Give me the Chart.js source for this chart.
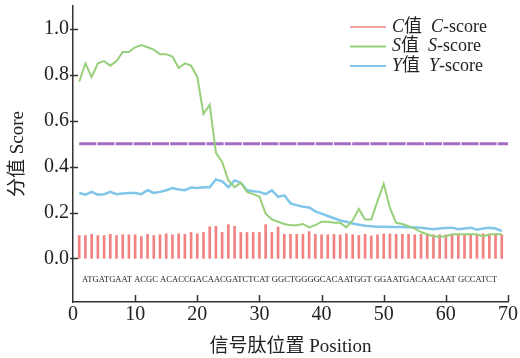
<!DOCTYPE html>
<html>
<head>
<meta charset="utf-8">
<script src="https://cdn.jsdelivr.net/npm/chart.js@4/dist/chart.umd.min.js"></script>
<style>
  html, body { margin: 0; padding: 0; background: #fff; }
  #wrap { width: 520px; height: 358px; }
</style>
</head>
<body>
<div id="wrap"><canvas id="chart" width="520" height="358"></canvas></div>
<script>
// Signal peptide positions
const positions = [1, 2, 3, 4, 5, 6, 7, 8, 9, 10, 11, 12, 13, 14, 15, 16, 17, 18, 19, 20,
  21, 22, 23, 24, 25, 26, 27, 28, 29, 30, 31, 32, 33, 34, 35, 36, 37, 38, 39, 40,
  41, 42, 43, 44, 45, 46, 47, 48, 49, 50, 51, 52, 53, 54, 55, 56, 57, 58, 59, 60,
  61, 62, 63, 64, 65, 66, 67, 68, 69];

// C-score (bars)
const cScore = [0.100, 0.100, 0.105, 0.100, 0.100, 0.105, 0.100, 0.103, 0.103, 0.103,
  0.095, 0.105, 0.100, 0.103, 0.107, 0.103, 0.107, 0.105, 0.113, 0.107,
  0.113, 0.138, 0.140, 0.113, 0.147, 0.140, 0.113, 0.113, 0.113, 0.113,
  0.147, 0.113, 0.137, 0.105, 0.105, 0.105, 0.105, 0.117, 0.105, 0.103,
  0.103, 0.105, 0.103, 0.107, 0.103, 0.100, 0.105, 0.098, 0.103, 0.107,
  0.107, 0.105, 0.105, 0.105, 0.103, 0.105, 0.103, 0.103, 0.103, 0.103,
  0.103, 0.103, 0.103, 0.103, 0.100, 0.107, 0.103, 0.107, 0.103];

// S-score (green)
const sScore = [0.77, 0.85, 0.79, 0.85, 0.86, 0.84, 0.86, 0.90, 0.90, 0.92,
  0.93, 0.92, 0.91, 0.89, 0.89, 0.88, 0.83, 0.85, 0.84, 0.79,
  0.63, 0.67, 0.46, 0.42, 0.34, 0.31, 0.33, 0.29, 0.28, 0.27,
  0.195, 0.17, 0.16, 0.15, 0.145, 0.145, 0.15, 0.135, 0.145, 0.16,
  0.16, 0.155, 0.155, 0.135, 0.165, 0.215, 0.17, 0.17, 0.25, 0.325,
  0.22, 0.155, 0.15, 0.14, 0.13, 0.115, 0.105, 0.096, 0.096, 0.096,
  0.105, 0.105, 0.105, 0.105, 0.105, 0.096, 0.105, 0.105, 0.105];

// Y-score (blue)
const yScore = [0.285, 0.278, 0.29, 0.278, 0.28, 0.29, 0.28, 0.283, 0.285, 0.285,
  0.28, 0.297, 0.285, 0.29, 0.297, 0.307, 0.30, 0.297, 0.309, 0.307,
  0.31, 0.31, 0.344, 0.336, 0.31, 0.34, 0.33, 0.297, 0.293, 0.29,
  0.28, 0.297, 0.268, 0.275, 0.24, 0.232, 0.225, 0.222, 0.205, 0.195,
  0.185, 0.175, 0.165, 0.16, 0.152, 0.147, 0.142, 0.14, 0.138, 0.138,
  0.137, 0.137, 0.137, 0.136, 0.135, 0.134, 0.13, 0.127, 0.13, 0.133,
  0.134, 0.127, 0.13, 0.134, 0.125, 0.13, 0.134, 0.13, 0.119];

const threshold = 0.5;
const xTicks = [0, 10, 20, 30, 40, 50, 60, 70];
const yTicks = [0, 0.2, 0.4, 0.6, 0.8, 1.0];
const sequence = "ATGATGAAT ACGC ACACCGACAACGATCTCAT GGCTGGGGCACAATGGT GGAATGACAACAAT GCCATCT";

const serif = "'Liberation Serif', 'Noto Sans CJK SC', serif";
const axisColor = "#333";

const toPoints = vals => positions.map((p, i) => ({ x: p, y: vals[i] }));

// inward tick marks, legend inside the plot and the sequence row
const decor = {
  id: "decor",
  afterDraw(chart) {
    const ctx = chart.ctx;
    const xs = chart.scales.x, ys = chart.scales.y;
    const area = chart.chartArea;
    ctx.save();
    ctx.strokeStyle = axisColor;
    ctx.lineWidth = 1.5;
    xTicks.slice(1).forEach(v => {
      const px = Math.round(xs.getPixelForValue(v)) + 0.5;
      ctx.beginPath();
      ctx.moveTo(px, area.bottom);
      ctx.lineTo(px, area.bottom - 7);
      ctx.stroke();
    });
    yTicks.forEach(v => {
      const py = Math.round(ys.getPixelForValue(v)) + 0.5;
      ctx.beginPath();
      ctx.moveTo(area.left - 3, py);
      ctx.lineTo(area.left + 5, py);
      ctx.stroke();
    });

    // sequence text
    ctx.fillStyle = "#222";
    ctx.font = "9px " + serif;
    ctx.textBaseline = "middle";
    ctx.fillText(sequence, area.left + 9, ys.getPixelForValue(-0.092), 415);

    // legend
    const rows = chart.data.datasets.filter(d => d.legend);
    rows.forEach((d, i) => {
      const y = 27 + i * 19.5;
      ctx.strokeStyle = d.legendColor;
      ctx.lineWidth = 2;
      ctx.beginPath();
      ctx.moveTo(350, y);
      ctx.lineTo(386, y);
      ctx.stroke();
      const letter = d.label[0];
      const parts = [
        [letter, true], ["值", false], ["  ", false], [letter, true], ["-score", false]
      ];
      let x = 392;
      ctx.fillStyle = "#222";
      parts.forEach(([t, it]) => {
        ctx.font = (it ? "italic " : "") + "18px " + serif;
        ctx.fillText(t, x, y);
        x += ctx.measureText(t).width;
      });
    });
    ctx.restore();
  }
};

new Chart(document.getElementById("chart"), {
  type: "bar",
  data: {
    datasets: [
      {
        type: "bar",
        label: "C值 C-score",
        data: toPoints(cScore),
        backgroundColor: "#f28282",
        barThickness: 2,
        order: 4,
        legend: true,
        legendColor: "#f4a3a3"
      },
      {
        type: "line",
        label: "S值 S-score",
        data: toPoints(sScore),
        borderColor: "#97d07a",
        borderWidth: 2,
        pointRadius: 0,
        tension: 0,
        order: 1,
        legend: true,
        legendColor: "#97d07a"
      },
      {
        type: "line",
        label: "Y值 Y-score",
        data: toPoints(yScore),
        borderColor: "#80c6ea",
        borderWidth: 2.5,
        pointRadius: 0,
        tension: 0,
        order: 2,
        legend: true,
        legendColor: "#80c6ea"
      },
      {
        type: "line",
        label: "threshold",
        data: [{ x: positions[0], y: threshold }, { x: xTicks[xTicks.length - 1], y: threshold }],
        borderColor: "#a76dc4",
        borderWidth: 3,
        borderDash: [17, 1.2],
        pointRadius: 0,
        order: 3
      }
    ]
  },
  options: {
    responsive: false,
    animation: false,
    layout: { padding: { top: 6, right: 12, left: 0, bottom: 0 } },
    plugins: {
      legend: { display: false },
      tooltip: { enabled: false }
    },
    scales: {
      x: {
        type: "linear",
        min: 0,
        max: 70,
        offset: false,
        afterBuildTicks: s => { s.ticks = xTicks.map(v => ({ value: v })); },
        afterFit: s => { s.height = 56; s.paddingLeft = 0; s.paddingRight = 0; },
        grid: { display: false, drawTicks: false },
        border: { display: true, color: axisColor, width: 1.5 },
        ticks: { color: "#222", font: { family: serif, size: 20 }, padding: 1, maxRotation: 0 },
        title: {
          display: true,
          text: "信号肽位置 Position",
          color: "#222",
          font: { family: serif, size: 19 },
          padding: { top: 0, bottom: 0 }
        }
      },
      y: {
        type: "linear",
        min: -0.19,
        max: 1.1,
        afterBuildTicks: s => { s.ticks = yTicks.map(v => ({ value: v })); },
        afterFit: s => { s.width = 73; s.paddingTop = 0; s.paddingBottom = 0; },
        grid: { display: false, drawTicks: false },
        border: { display: true, color: axisColor, width: 1.5 },
        ticks: {
          color: "#222",
          font: { family: serif, size: 20 },
          padding: 4,
          callback: v => v.toFixed(1)
        },
        title: {
          display: true,
          text: "分值 Score",
          color: "#222",
          font: { family: serif, size: 19 },
          padding: { top: 7, bottom: 0 }
        }
      }
    }
  },
  plugins: [decor]
});
</script>
</body>
</html>
